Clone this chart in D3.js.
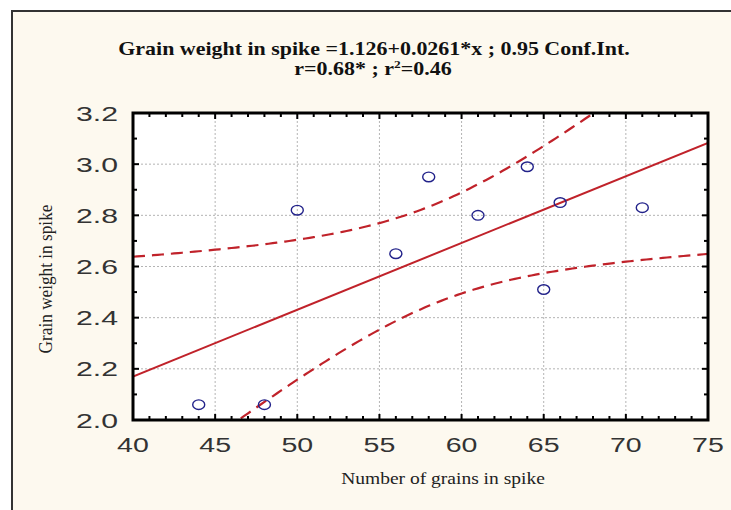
<!DOCTYPE html>
<html>
<head>
<meta charset="utf-8">
<script src="https://cdn.jsdelivr.net/npm/d3@7"></script>
<style>
  body { margin: 0; background: #fff; }
  svg { display: block; }
</style>
</head>
<body>
<svg id="chart" width="731" height="510"></svg>
<script>
// Data
const grains = [44, 48, 50, 56, 58, 61, 64, 65, 66, 71];
const weight = [2.06, 2.06, 2.82, 2.65, 2.95, 2.80, 2.99, 2.51, 2.85, 2.83];

// Regression from the title
const intercept = 1.126;
const slope = 0.0261;
const tCrit = 2.306; // t(0.975, n-2 = 8)

const xTicks = [40, 45, 50, 55, 60, 65, 70, 75];
const yTicks = [2.0, 2.2, 2.4, 2.6, 2.8, 3.0, 3.2];

const titleLine1 = "Grain weight in spike =1.126+0.0261*x ; 0.95 Conf.Int.";
const xLabel = "Number of grains  in spike";
const yLabel = "Grain weight in spike";

const svg = d3.select("#chart");
const W = 731, H = 510;

const plot = { left: 133, right: 708, top: 113, bottom: 420 };

const x = d3.scaleLinear().domain([40, 75]).range([plot.left, plot.right]);
const y = d3.scaleLinear().domain([2.0, 3.2]).range([plot.bottom, plot.top]);

// outer frame
svg.append("rect")
    .attr("x", 12).attr("y", 11)
    .attr("width", W).attr("height", H)
    .attr("fill", "#fdf9ef")
    .attr("stroke", "#333")
    .attr("stroke-width", 2);

// plot area
svg.append("rect")
    .attr("x", plot.left).attr("y", plot.top)
    .attr("width", plot.right - plot.left)
    .attr("height", plot.bottom - plot.top)
    .attr("fill", "#fff");

// grid lines
const grid = svg.append("g")
    .attr("stroke", "#b4b4b4")
    .attr("stroke-width", 1)
    .attr("stroke-dasharray", "2,2");

grid.selectAll("line.vx")
    .data(xTicks.slice(1, -1))
    .join("line")
    .attr("x1", d => x(d)).attr("x2", d => x(d))
    .attr("y1", plot.top).attr("y2", plot.bottom);

grid.selectAll("line.hy")
    .data(yTicks.slice(1, -1))
    .join("line")
    .attr("x1", plot.left).attr("x2", plot.right)
    .attr("y1", d => y(d)).attr("y2", d => y(d));

svg.append("clipPath").attr("id", "clip")
    .append("rect")
    .attr("x", plot.left).attr("y", plot.top)
    .attr("width", plot.right - plot.left)
    .attr("height", plot.bottom - plot.top);

// confidence band from the data
const n = grains.length;
const meanX = d3.mean(grains);
const sxx = d3.sum(grains, g => (g - meanX) ** 2);
const sse = d3.sum(grains, (g, i) => (weight[i] - (intercept + slope * g)) ** 2);
const s = Math.sqrt(sse / (n - 2));

const xs = d3.range(40, 75.01, 0.25);
const band = xs.map(v => {
    const fit = intercept + slope * v;
    const half = tCrit * s * Math.sqrt(1 / n + (v - meanX) ** 2 / sxx);
    return { v, lo: fit - half, hi: fit + half };
});

const red = "#c0222a";
const inner = svg.append("g").attr("clip-path", "url(#clip)");

inner.append("path")
    .datum(band)
    .attr("fill", "none")
    .attr("stroke", red)
    .attr("stroke-width", 2.2)
    .attr("stroke-dasharray", "12,7")
    .attr("d", d3.line().x(d => x(d.v)).y(d => y(d.hi)));

inner.append("path")
    .datum(band)
    .attr("fill", "none")
    .attr("stroke", red)
    .attr("stroke-width", 2.2)
    .attr("stroke-dasharray", "12,7")
    .attr("d", d3.line().x(d => x(d.v)).y(d => y(d.lo)));

inner.append("line")
    .attr("x1", x(40)).attr("y1", y(intercept + slope * 40))
    .attr("x2", x(75)).attr("y2", y(intercept + slope * 75))
    .attr("stroke", red)
    .attr("stroke-width", 2);

// points
svg.append("g")
    .selectAll("ellipse")
    .data(grains)
    .join("ellipse")
    .attr("cx", d => x(d))
    .attr("cy", (d, i) => y(weight[i]))
    .attr("rx", 6).attr("ry", 4.8)
    .attr("fill", "none")
    .attr("stroke", "#22228a")
    .attr("stroke-width", 1.4);

// ticks on all four sides, pointing inward
const ticks = svg.append("g").attr("stroke", "#000").attr("stroke-width", 2);
const xMinor = d3.range(41, 75, 1).filter(v => v % 5 !== 0);
const yMinor = d3.range(2.1, 3.2, 0.2);

function hTicks(vals, len) {
    vals.forEach(v => {
        ticks.append("line").attr("x1", x(v)).attr("x2", x(v))
            .attr("y1", plot.bottom).attr("y2", plot.bottom - len);
        ticks.append("line").attr("x1", x(v)).attr("x2", x(v))
            .attr("y1", plot.top).attr("y2", plot.top + len);
    });
}
function vTicks(vals, len) {
    vals.forEach(v => {
        ticks.append("line").attr("y1", y(v)).attr("y2", y(v))
            .attr("x1", plot.left).attr("x2", plot.left + len);
        ticks.append("line").attr("y1", y(v)).attr("y2", y(v))
            .attr("x1", plot.right).attr("x2", plot.right - len);
    });
}
hTicks(xTicks, 6);
hTicks(xMinor, 4);
vTicks(yTicks, 6);
vTicks(yMinor, 4);

// axis frame
svg.append("rect")
    .attr("x", plot.left).attr("y", plot.top)
    .attr("width", plot.right - plot.left)
    .attr("height", plot.bottom - plot.top)
    .attr("fill", "none")
    .attr("stroke", "#000")
    .attr("stroke-width", 3);

// tick labels (the source picture is stretched sideways)
const tickFont = "Liberation Sans, Arial, sans-serif";
const stretch = 1.36;
svg.append("g")
    .selectAll("text")
    .data(xTicks)
    .join("text")
    .attr("transform", d => `translate(${x(d)},452) scale(${stretch},1)`)
    .attr("text-anchor", "middle")
    .attr("font-family", tickFont)
    .attr("font-size", 21)
    .attr("fill", "#333")
    .text(d => d);

svg.append("g")
    .selectAll("text")
    .data(yTicks)
    .join("text")
    .attr("transform", d => `translate(118,${y(d) + 7.5}) scale(${stretch + 0.08},1)`)
    .attr("text-anchor", "end")
    .attr("font-family", tickFont)
    .attr("font-size", 21)
    .attr("fill", "#333")
    .text(d => d.toFixed(1));

// title
const serif = "Liberation Serif, Times New Roman, serif";
svg.append("text")
    .attr("transform", "translate(374,55) scale(1.22,1)")
    .attr("text-anchor", "middle")
    .attr("font-family", serif)
    .attr("font-weight", "bold")
    .attr("font-size", 18)
    .attr("fill", "#111")
    .text(titleLine1);

const t2 = svg.append("text")
    .attr("transform", "translate(373,75) scale(1.22,1)")
    .attr("text-anchor", "middle")
    .attr("font-family", serif)
    .attr("font-weight", "bold")
    .attr("font-size", 18)
    .attr("fill", "#111");
t2.append("tspan").text("r=0.68* ; r");
t2.append("tspan").attr("font-size", 11).attr("dy", -7).text("2");
t2.append("tspan").attr("dy", 7).text("=0.46");

// axis titles
svg.append("text")
    .attr("transform", "translate(443,484) scale(1.22,1)")
    .attr("text-anchor", "middle")
    .attr("font-family", serif)
    .attr("font-size", 16)
    .attr("fill", "#222")
    .text(xLabel);

svg.append("text")
    .attr("transform", "translate(52,279) rotate(-90) scale(1.15,1.2)")
    .attr("text-anchor", "middle")
    .attr("font-family", serif)
    .attr("font-size", 15)
    .attr("fill", "#222")
    .text(yLabel);
</script>
</body>
</html>
